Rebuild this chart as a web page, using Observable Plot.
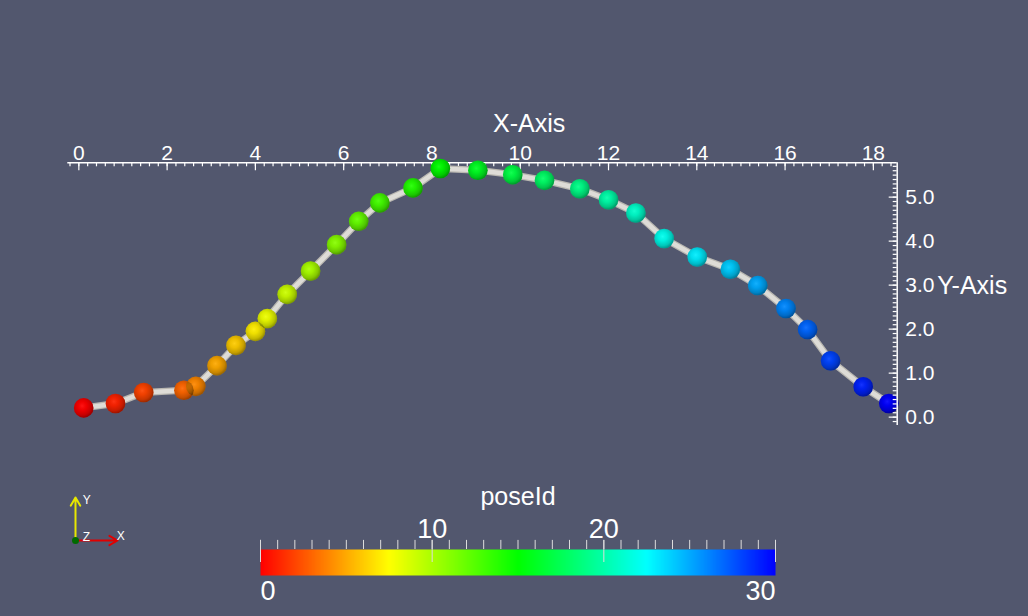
<!DOCTYPE html>
<html><head><meta charset="utf-8">
<script src="https://cdn.jsdelivr.net/npm/d3@7"></script>
<script src="https://cdn.jsdelivr.net/npm/@observablehq/plot@0.6"></script>
<style>
html,body{margin:0;padding:0;background:#52576e;}
#chart{position:relative;width:1028px;height:616px;overflow:hidden;background:#52576e;}
#chart svg{position:absolute;left:0;top:0;}
</style></head><body>
<svg width="0" height="0" style="position:absolute">
<defs>
<radialGradient id="shade" cx="0.42" cy="0.4" r="0.62">
<stop offset="0" stop-color="#fff" stop-opacity="0.08"/>
<stop offset="0.35" stop-color="#000" stop-opacity="0.06"/>
<stop offset="0.75" stop-color="#000" stop-opacity="0.22"/>
<stop offset="1" stop-color="#000" stop-opacity="0.42"/>
</radialGradient>
</defs></svg>
<div id="chart"></div>
<script>
// ---- data ----
const poseId = [0,1,2,3,4,5,6,7,8,9,10,11,12,13,14,15,16,17,18,19,20,21,22,23,24,25,26,27,28,29,30];
const poseX = [0.11,0.83,1.47,2.38,2.65,3.13,3.56,4.00,4.27,4.72,5.25,5.84,6.34,6.82,7.57,8.19,9.04,9.83,10.55,11.35,12.00,12.62,13.26,14.01,14.76,15.38,16.02,16.51,17.03,17.77,18.35];
const poseY = [0.21,0.31,0.56,0.61,0.70,1.17,1.63,1.95,2.24,2.79,3.32,3.92,4.45,4.87,5.21,5.65,5.61,5.51,5.38,5.19,4.94,4.64,4.06,3.64,3.36,2.99,2.47,1.99,1.28,0.69,0.31];

const xMajorTicks = [0,2,4,6,8,10,12,14,16,18];
const yMajorTicks = [0,1,2,3,4,5];
const xDomain = [-0.25, 18.54];
const yDomain = [-0.19, 5.78];
const colorDomain = [0, 7.5, 15, 22.5, 30];
const colorStops = ["#ff0000", "#ffff00", "#00ff00", "#00ffff", "#0000ff"];
const colorbarLabelsTop = [10, 20];
const colorbarMajor = [0, 10, 20, 30];
const colorbarMinor = d3.range(0, 31, 1);
const xMinorTicks = d3.range(-1, 93).map(i => i * 0.2);
const yMinorTicks = d3.range(-1, 58).map(i => i / 10);

const poses = poseId.map((id, i) => ({id, x: poseX[i], y: poseY[i]}));

const W = 1028, H = 616;
const mL = 67.3, mR = 131.3, mT = 162.3, mB = 191;
const fw = W - mL - mR, fh = H - mT - mB;
const font = "'Liberation Sans', Arial, sans-serif";
const colorScale = {type: "linear", domain: colorDomain, range: colorStops};

const chart = document.getElementById("chart");

// ---- main plot ----
const main = Plot.plot({
  width: W, height: H,
  marginLeft: mL, marginRight: mR, marginTop: mT, marginBottom: mB,
  x: {domain: xDomain, axis: null},
  y: {domain: yDomain, axis: null},
  color: colorScale,
  style: {background: "transparent", color: "white", fontFamily: font, fontSize: "21px", overflow: "visible"},
  marks: [
    Plot.ruleY([yDomain[1]], {stroke: "white", strokeWidth: 1.5}),
    Plot.tickX(xMinorTicks, {x: d => d, stroke: "white", strokeWidth: 1.2, insetBottom: fh - 4}),
    Plot.tickX(xMajorTicks, {x: d => d, stroke: "white", strokeWidth: 1.2, insetBottom: fh - 8}),
    Plot.text(xMajorTicks, {x: d => d, frameAnchor: "top", dy: -3, lineAnchor: "bottom", text: d => String(d), fill: "white"}),
    Plot.text(["X-Axis"], {x: 10.2, frameAnchor: "top", dy: -31, lineAnchor: "bottom", text: d => d, fill: "white", fontSize: 25, style: "letter-spacing:2px"}),
    Plot.line(poses, {x: "x", y: "y", stroke: "#b9b7b1", strokeWidth: 7, strokeLinejoin: "round"}),
    Plot.line(poses, {x: "x", y: "y", stroke: "#dedcd7", strokeWidth: 4.5, strokeLinejoin: "round"}),
    Plot.dot(poses, {x: "x", y: "y", r: 9.8, fill: "id", stroke: null}),
    Plot.dot(poses, {x: "x", y: "y", r: 9.8, fill: "url(#shade)"}),
    Plot.ruleX([xDomain[1]], {stroke: "white", strokeWidth: 1.5}),
    Plot.tickY(yMinorTicks, {y: d => d, stroke: "white", strokeWidth: 1.2, insetLeft: fw - 4}),
    Plot.tickY(yMajorTicks, {y: d => d, stroke: "white", strokeWidth: 1.2, insetLeft: fw - 8}),
    Plot.text(yMajorTicks, {y: d => d, frameAnchor: "right", dx: 8, textAnchor: "start", text: d => d.toFixed(1), fill: "white"}),
    Plot.text(["Y-Axis"], {y: 2.97, frameAnchor: "right", dx: 40, textAnchor: "start", text: d => d, fill: "white", fontSize: 25, style: "letter-spacing:2px"})
  ]
});
chart.appendChild(main);

// ---- colorbar ----
const cbL = 260, cbR = 775, cbT = 549, cbB = 575;
const cbar = Plot.plot({
  width: W, height: H,
  marginLeft: cbL, marginRight: W - cbR, marginTop: cbT, marginBottom: H - cbB,
  x: {domain: [0, 30], axis: null},
  y: {domain: [0, 1], axis: null},
  color: colorScale,
  style: {background: "transparent", color: "white", fontFamily: font, fontSize: "27px", overflow: "visible"},
  marks: [
    Plot.raster({x1: 0, x2: 30, y1: 0, y2: 1, width: 300, height: 1, fill: (x, y) => x, imageRendering: "auto"}),
    Plot.ruleX(colorbarMinor, {x: d => d, y1: 1, y2: 1.35, stroke: "#dddddd", strokeWidth: 1}),
    Plot.ruleX(colorbarMajor, {x: d => d, y1: 0.5, y2: 1.35, stroke: "#dddddd", strokeWidth: 1}),
    Plot.text(colorbarLabelsTop, {x: d => d, y: 1.35, dy: -2, lineAnchor: "bottom", text: d => String(d), fill: "white"}),
    Plot.text([0], {x: d => d, y: 0, dy: 5, lineAnchor: "top", textAnchor: "start", text: d => String(d), fill: "white"}),
    Plot.text([30], {x: d => d, y: 0, dy: 5, lineAnchor: "top", textAnchor: "end", text: d => String(d), fill: "white"}),
    Plot.text(["poseId"], {x: 15, y: 1.35, dy: -35, lineAnchor: "bottom", text: d => d, fill: "white", fontSize: 25, style: "letter-spacing:1px"})
  ]
});
chart.appendChild(cbar);

// ---- orientation widget ----
const axesX = [{x1: 0, y1: 0, x2: 1, y2: 0}];
const axesY = [{x1: 0, y1: 0, x2: 0, y2: 1}];
const axesLabels = [{x: 0.17, y: 0.93, t: "Y"}, {x: 0.17, y: 0.07, t: "Z"}, {x: 0.98, y: 0.09, t: "X"}];
const orient = Plot.plot({
  width: 70, height: 65,
  marginLeft: 15, marginRight: 13, marginTop: 12, marginBottom: 10,
  x: {domain: [0, 1], axis: null},
  y: {domain: [0, 1], axis: null},
  style: {background: "transparent", color: "white", fontFamily: font, fontSize: "12px", overflow: "visible"},
  marks: [
    Plot.arrow(axesY, {x1: "x1", y1: "y1", x2: "x2", y2: "y2", stroke: "#e8e800", strokeWidth: 2, headLength: 7}),
    Plot.arrow(axesX, {x1: "x1", y1: "y1", x2: "x2", y2: "y2", stroke: "#e00000", strokeWidth: 2, headLength: 7}),
    Plot.dot([[0, 0]], {r: 3.5, fill: "#006a00"}),
    Plot.text(axesLabels, {x: "x", y: "y", text: "t", fill: "white", textAnchor: "start"})
  ]
});
orient.style.left = "60px";
orient.style.top = "485px";
chart.appendChild(orient);
</script>
</body></html>
